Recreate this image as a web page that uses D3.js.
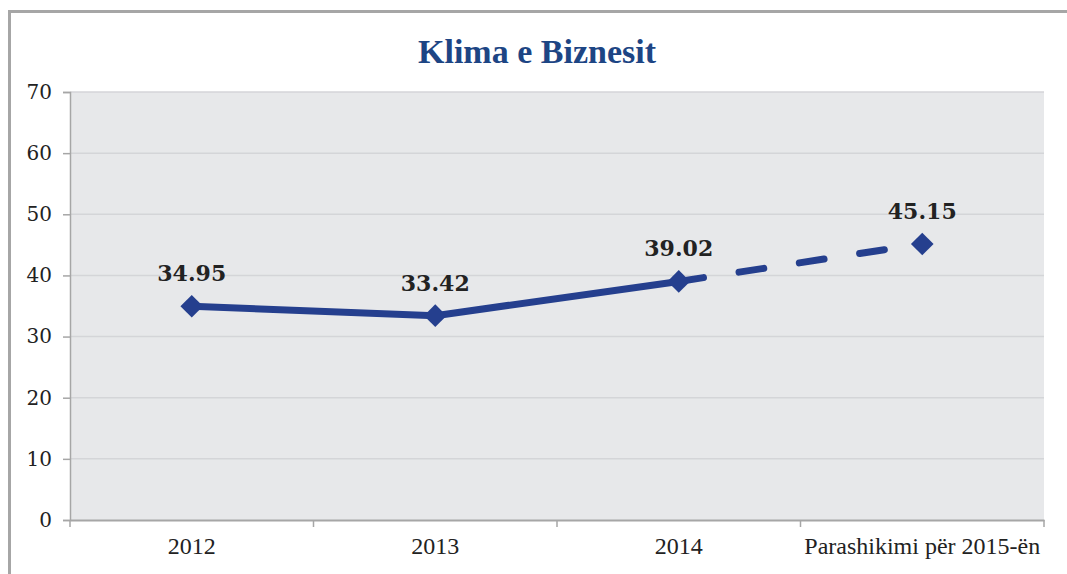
<!DOCTYPE html>
<html><head><meta charset="utf-8">
<script src="https://cdn.jsdelivr.net/npm/d3@7"></script>
<style>body{margin:0;background:#fff}svg{display:block}</style>
</head><body>
<svg id="c" width="1067" height="574"></svg>
<script>
const categories = ["2012", "2013", "2014", "Parashikimi për 2015-ën"];
const values = [34.95, 33.42, 39.02, 45.15];
const labels = ["34.95", "33.42", "39.02", "45.15"];
const yTicks = [0, 10, 20, 30, 40, 50, 60, 70];
const title = "Klima e Biznesit";

const svg = d3.select("#c");
const W = 1067, H = 574;
const m = {left: 70, right: 1044, top: 92, bottom: 520};

// outer border
svg.append("path").attr("d", `M9.5,${H} V11.5 H${W}`)
  .attr("fill", "none").attr("stroke", "#a6a6a6").attr("stroke-width", 3);

// plot background
svg.append("rect").attr("x", m.left).attr("y", m.top)
  .attr("width", m.right - m.left).attr("height", m.bottom - m.top).attr("fill", "#e7e8ea");

const x = d3.scaleBand().domain(categories).range([m.left, m.right]);
const y = d3.scaleLinear().domain([0, 70]).range([m.bottom, m.top]);

// gridlines
svg.append("g").selectAll("line").data(yTicks.filter(d => d > 0)).join("line")
  .attr("x1", m.left).attr("x2", m.right)
  .attr("y1", d => y(d)).attr("y2", d => y(d))
  .attr("stroke", "#d4d5d8").attr("stroke-width", 1.5);

// y axis
const ya = svg.append("g").attr("transform", `translate(${m.left},0)`)
  .call(d3.axisLeft(y).tickValues(yTicks).tickSize(7).tickPadding(11));
ya.select(".domain").attr("stroke", "#a6a6a6").attr("stroke-width", 1.5);
ya.selectAll(".tick line").attr("stroke", "#a6a6a6").attr("stroke-width", 1.5);
ya.selectAll("text").attr("font-family", "DejaVu Serif").attr("font-size", 20).attr("fill", "#222");

// x axis
const xa = svg.append("g").attr("transform", `translate(0,${m.bottom})`)
  .call(d3.axisBottom(x).tickSize(0).tickPadding(20));
xa.select(".domain").attr("stroke", "#a6a6a6").attr("stroke-width", 2);
xa.selectAll("text").attr("font-family", "Liberation Serif").attr("font-size", 24).attr("fill", "#222")
  .attr("dy", "0.6em");
// category boundary ticks
const bounds = categories.map(c => x(c)).concat([m.right]);
xa.append("g").selectAll("line").data(bounds).join("line")
  .attr("x1", d => d).attr("x2", d => d).attr("y1", 0).attr("y2", 7)
  .attr("stroke", "#a6a6a6").attr("stroke-width", 1.5);

const cx = c => x(c) + x.bandwidth() / 2;
const pts = categories.map((c, i) => [cx(c), y(values[i])]);
const color = "#253f8e";

// solid part
svg.append("path").datum(pts.slice(0, 3))
  .attr("d", d3.line())
  .attr("fill", "none").attr("stroke", color).attr("stroke-width", 7).attr("stroke-linejoin", "round");
// dashed forecast
svg.append("path").datum(pts.slice(2, 4))
  .attr("d", d3.line())
  .attr("fill", "none").attr("stroke", color).attr("stroke-width", 7)
  .attr("stroke-linecap", "round").attr("stroke-dasharray", "25,36");

// markers
svg.append("g").selectAll("path").data(pts).join("path")
  .attr("transform", d => `translate(${d[0]},${d[1]}) rotate(45)`)
  .attr("d", "M-8,-8H8V8H-8Z")
  .attr("fill", color);

// data labels
svg.append("g").selectAll("text").data(pts).join("text")
  .attr("x", d => d[0]).attr("y", d => d[1] - 25)
  .attr("text-anchor", "middle")
  .attr("font-family", "DejaVu Serif").attr("font-weight", "bold").attr("font-size", 22)
  .attr("fill", "#222")
  .text((d, i) => labels[i]);

// title
svg.append("text").attr("x", 537).attr("y", 63).attr("text-anchor", "middle")
  .attr("font-family", "Liberation Serif").attr("font-weight", "bold").attr("font-size", 34)
  .attr("fill", "#1d4584").text(title);
</script>
</body></html>
